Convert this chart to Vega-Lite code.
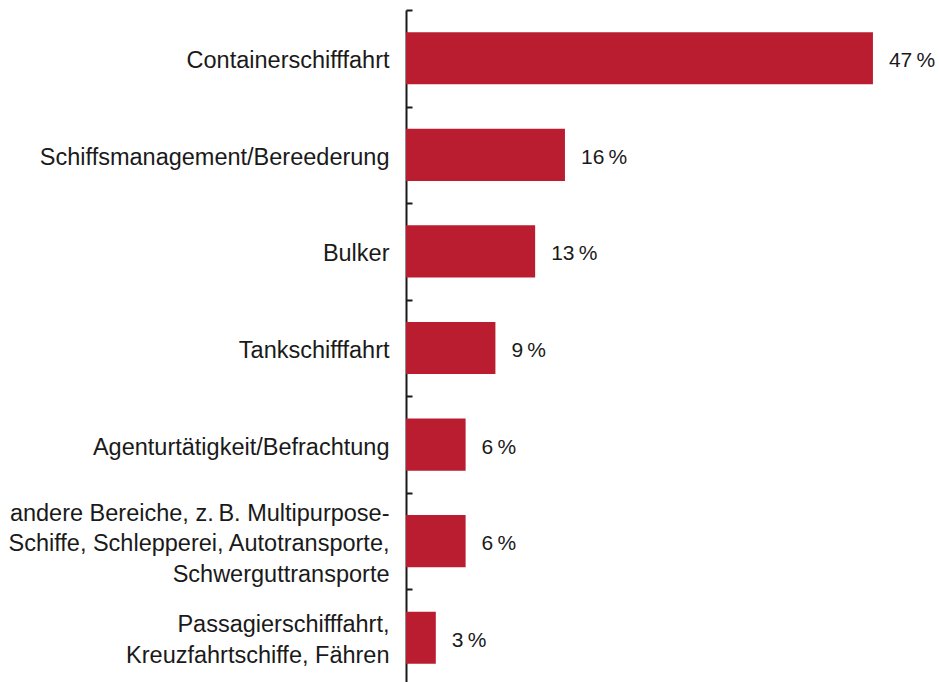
{
  "$schema": "https://vega.github.io/schema/vega-lite/v6.json",
  "autosize": "none",
  "width": 533,
  "height": 676,
  "padding": {"left": 406, "top": 10, "right": 0, "bottom": 0},
  "background": "white",
  "config": {"view": {"stroke": null}, "font": "Liberation Sans"},
  "data": {"values": [
    {"bereich": "Containerschifffahrt", "anteil": 47},
    {"bereich": "Schiffsmanagement/Bereederung", "anteil": 16},
    {"bereich": "Bulker", "anteil": 13},
    {"bereich": "Tankschifffahrt", "anteil": 9},
    {"bereich": "Agenturtätigkeit/Befrachtung", "anteil": 6},
    {"bereich": "andere Bereiche, z.\u2009B. Multipurpose-|Schiffe, Schlepperei, Autotransporte,|Schwerguttransporte", "anteil": 6},
    {"bereich": "Passagierschifffahrt,|Kreuzfahrtschiffe, Fähren", "anteil": 3}
  ]},
  "encoding": {
    "y": {
      "field": "bereich", "type": "nominal", "sort": null,
      "scale": {"paddingInner": 0, "paddingOuter": 0},
      "axis": {
        "title": null,
        "domainColor": "#1a1a1a", "domainWidth": 2,
        "tickColor": "#1a1a1a", "tickWidth": 2, "tickSize": -6, "tickBand": "extent",
        "labelFont": "Liberation Sans", "labelFontSize": 23.5, "labelColor": "#1a1a1a",
        "labelPadding": 23, "labelLimit": 500, "labelLineHeight": 30.5,
        "labelExpr": "split(datum.label, '|')",
        "labelOffset": {
          "condition": [
            {"test": "length(split(datum.label, '|')) == 3", "value": -28},
            {"test": "length(split(datum.label, '|')) == 2", "value": -13}
          ],
          "value": 2.5
        }
      }
    },
    "x": {
      "field": "anteil", "type": "quantitative",
      "scale": {"domain": [0, 53.65], "nice": false},
      "axis": null
    }
  },
  "layer": [
    {"mark": {"type": "bar", "color": "#BA1C30", "height": {"band": 0.54}}},
    {"mark": {"type": "text", "align": "left", "baseline": "middle", "dx": 16, "dy": 3, "fontSize": 21, "font": "Liberation Sans", "color": "#1a1a1a"},
     "encoding": {"text": {"field": "label"}},
     "transform": [{"calculate": "datum.anteil + '\u2009%'", "as": "label"}]}
  ]
}
